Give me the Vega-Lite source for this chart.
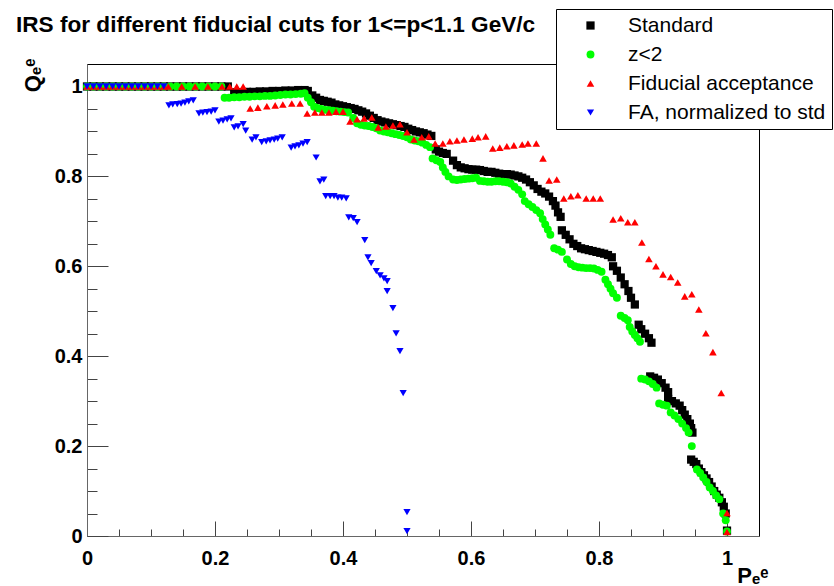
{
"$schema": "https://vega.github.io/schema/vega-lite/v6.json",
"autosize": {"type": "none"},
"width": 672, "height": 472,
"padding": {"left": 87, "top": 64, "right": 75, "bottom": 50},
"background": "white",
"title": {"text": "IRS for different fiducial cuts for 1<=p<1.1 GeV/c", "anchor": "start", "frame": "group", "font": "Liberation Sans", "fontSize": 22.6, "fontWeight": "bold", "color": "black", "dx": -71, "offset": 33, "dy": 79, "baseline": "alphabetic"},
"config": {
  "font": "Liberation Sans",
  "view": {"stroke": "black", "strokeWidth": 1},
  "legend": {"orient": "none", "legendX": 469, "legendY": -55, "padding": 6, "symbolOffset": 18, "labelOffset": 27, "rowPadding": 7, "labelFont": "Liberation Sans", "labelFontSize": 21, "labelColor": "black", "strokeColor": "black", "fillColor": "white", "symbolSize": 50, "symbolStrokeWidth": 0, "labelLimit": 400}
},
"data": {"values": [
{"s":"Standard","x":0,"y":1},{"s":"Standard","x":0.01,"y":1},{"s":"Standard","x":0.02,"y":1},{"s":"Standard","x":0.03,"y":1},{"s":"Standard","x":0.04,"y":1},{"s":"Standard","x":0.05,"y":1},{"s":"Standard","x":0.06,"y":1},{"s":"Standard","x":0.07,"y":1},{"s":"Standard","x":0.08,"y":1},{"s":"Standard","x":0.09,"y":1},{"s":"Standard","x":0.1,"y":1},{"s":"Standard","x":0.11,"y":1},{"s":"Standard","x":0.12,"y":1},{"s":"Standard","x":0.13,"y":1},{"s":"Standard","x":0.14,"y":1},{"s":"Standard","x":0.15,"y":1},{"s":"Standard","x":0.16,"y":1},{"s":"Standard","x":0.17,"y":1},{"s":"Standard","x":0.18,"y":1},{"s":"Standard","x":0.19,"y":1},{"s":"Standard","x":0.2,"y":1},{"s":"Standard","x":0.21,"y":1},{"s":"Standard","x":0.22,"y":1},
{"s":"Standard","x":0.23,"y":0.987},{"s":"Standard","x":0.24,"y":0.987},{"s":"Standard","x":0.25,"y":0.988},{"s":"Standard","x":0.26,"y":0.988},{"s":"Standard","x":0.27,"y":0.989},{"s":"Standard","x":0.28,"y":0.989},{"s":"Standard","x":0.29,"y":0.99},{"s":"Standard","x":0.3,"y":0.99},{"s":"Standard","x":0.31,"y":0.991},{"s":"Standard","x":0.32,"y":0.991},{"s":"Standard","x":0.33,"y":0.992},{"s":"Standard","x":0.34,"y":0.992},{"s":"Standard","x":0.345,"y":0.99},
{"s":"Standard","x":0.352,"y":0.98},{"s":"Standard","x":0.358,"y":0.975},{"s":"Standard","x":0.364,"y":0.97},{"s":"Standard","x":0.37,"y":0.968},{"s":"Standard","x":0.376,"y":0.966},{"s":"Standard","x":0.382,"y":0.964},{"s":"Standard","x":0.388,"y":0.96},{"s":"Standard","x":0.394,"y":0.958},{"s":"Standard","x":0.4,"y":0.956},{"s":"Standard","x":0.406,"y":0.954},{"s":"Standard","x":0.412,"y":0.952},{"s":"Standard","x":0.418,"y":0.95},{"s":"Standard","x":0.424,"y":0.947},{"s":"Standard","x":0.43,"y":0.944},{"s":"Standard","x":0.436,"y":0.94},{"s":"Standard","x":0.442,"y":0.935},{"s":"Standard","x":0.448,"y":0.93},{"s":"Standard","x":0.454,"y":0.925},{"s":"Standard","x":0.46,"y":0.922},{"s":"Standard","x":0.466,"y":0.92},{"s":"Standard","x":0.472,"y":0.918},{"s":"Standard","x":0.478,"y":0.916},{"s":"Standard","x":0.484,"y":0.914},{"s":"Standard","x":0.49,"y":0.912},{"s":"Standard","x":0.496,"y":0.91},{"s":"Standard","x":0.502,"y":0.906},{"s":"Standard","x":0.508,"y":0.903},{"s":"Standard","x":0.514,"y":0.9},{"s":"Standard","x":0.52,"y":0.898},{"s":"Standard","x":0.526,"y":0.896},{"s":"Standard","x":0.532,"y":0.893},{"s":"Standard","x":0.538,"y":0.89},
{"s":"Standard","x":0.545,"y":0.86},{"s":"Standard","x":0.55,"y":0.855},{"s":"Standard","x":0.556,"y":0.852},{"s":"Standard","x":0.562,"y":0.85},{"s":"Standard","x":0.572,"y":0.835},{"s":"Standard","x":0.578,"y":0.825},{"s":"Standard","x":0.584,"y":0.82},{"s":"Standard","x":0.59,"y":0.818},{"s":"Standard","x":0.596,"y":0.816},{"s":"Standard","x":0.602,"y":0.815},{"s":"Standard","x":0.608,"y":0.815},{"s":"Standard","x":0.614,"y":0.814},{"s":"Standard","x":0.62,"y":0.812},{"s":"Standard","x":0.626,"y":0.81},{"s":"Standard","x":0.632,"y":0.81},{"s":"Standard","x":0.638,"y":0.808},{"s":"Standard","x":0.644,"y":0.806},{"s":"Standard","x":0.65,"y":0.805},{"s":"Standard","x":0.656,"y":0.805},{"s":"Standard","x":0.662,"y":0.804},{"s":"Standard","x":0.668,"y":0.802},{"s":"Standard","x":0.674,"y":0.8},{"s":"Standard","x":0.68,"y":0.797},{"s":"Standard","x":0.686,"y":0.793},{"s":"Standard","x":0.692,"y":0.787},{"s":"Standard","x":0.698,"y":0.78},{"s":"Standard","x":0.704,"y":0.772},{"s":"Standard","x":0.71,"y":0.766},{"s":"Standard","x":0.716,"y":0.762},{"s":"Standard","x":0.722,"y":0.755},{"s":"Standard","x":0.728,"y":0.745},{"s":"Standard","x":0.732,"y":0.735},{"s":"Standard","x":0.736,"y":0.72},{"s":"Standard","x":0.74,"y":0.71},
{"s":"Standard","x":0.742,"y":0.68},{"s":"Standard","x":0.748,"y":0.67},{"s":"Standard","x":0.754,"y":0.66},{"s":"Standard","x":0.76,"y":0.65},{"s":"Standard","x":0.766,"y":0.645},{"s":"Standard","x":0.772,"y":0.64},{"s":"Standard","x":0.778,"y":0.638},{"s":"Standard","x":0.784,"y":0.636},{"s":"Standard","x":0.79,"y":0.634},{"s":"Standard","x":0.796,"y":0.632},{"s":"Standard","x":0.802,"y":0.63},{"s":"Standard","x":0.808,"y":0.628},{"s":"Standard","x":0.814,"y":0.625},{"s":"Standard","x":0.82,"y":0.62},{"s":"Standard","x":0.822,"y":0.6},{"s":"Standard","x":0.828,"y":0.59},{"s":"Standard","x":0.834,"y":0.575},{"s":"Standard","x":0.84,"y":0.56},{"s":"Standard","x":0.846,"y":0.545},{"s":"Standard","x":0.85,"y":0.53},{"s":"Standard","x":0.856,"y":0.515},
{"s":"Standard","x":0.862,"y":0.47},{"s":"Standard","x":0.866,"y":0.46},{"s":"Standard","x":0.872,"y":0.45},{"s":"Standard","x":0.878,"y":0.44},{"s":"Standard","x":0.882,"y":0.43},
{"s":"Standard","x":0.88,"y":0.355},{"s":"Standard","x":0.886,"y":0.352},{"s":"Standard","x":0.892,"y":0.348},{"s":"Standard","x":0.898,"y":0.34},{"s":"Standard","x":0.904,"y":0.33},{"s":"Standard","x":0.908,"y":0.32},{"s":"Standard","x":0.908,"y":0.305},{"s":"Standard","x":0.914,"y":0.3},{"s":"Standard","x":0.92,"y":0.295},{"s":"Standard","x":0.926,"y":0.29},{"s":"Standard","x":0.93,"y":0.28},{"s":"Standard","x":0.934,"y":0.27},{"s":"Standard","x":0.938,"y":0.26},{"s":"Standard","x":0.942,"y":0.25},{"s":"Standard","x":0.944,"y":0.24},{"s":"Standard","x":0.946,"y":0.23},
{"s":"Standard","x":0.944,"y":0.17},{"s":"Standard","x":0.948,"y":0.165},{"s":"Standard","x":0.952,"y":0.16},{"s":"Standard","x":0.956,"y":0.15},{"s":"Standard","x":0.96,"y":0.142},{"s":"Standard","x":0.964,"y":0.135},{"s":"Standard","x":0.968,"y":0.128},{"s":"Standard","x":0.972,"y":0.12},{"s":"Standard","x":0.976,"y":0.11},{"s":"Standard","x":0.98,"y":0.1},{"s":"Standard","x":0.984,"y":0.092},{"s":"Standard","x":0.988,"y":0.085},{"s":"Standard","x":0.992,"y":0.075},{"s":"Standard","x":0.995,"y":0.065},{"s":"Standard","x":0.998,"y":0.05},{"s":"Standard","x":1,"y":0.012},

{"s":"z<2","x":0,"y":1},{"s":"z<2","x":0.01,"y":1},{"s":"z<2","x":0.02,"y":1},{"s":"z<2","x":0.03,"y":1},{"s":"z<2","x":0.04,"y":1},{"s":"z<2","x":0.05,"y":1},{"s":"z<2","x":0.06,"y":1},{"s":"z<2","x":0.07,"y":1},{"s":"z<2","x":0.08,"y":1},{"s":"z<2","x":0.09,"y":1},{"s":"z<2","x":0.1,"y":1},{"s":"z<2","x":0.11,"y":1},{"s":"z<2","x":0.12,"y":1},{"s":"z<2","x":0.13,"y":1},{"s":"z<2","x":0.14,"y":1},{"s":"z<2","x":0.15,"y":1},{"s":"z<2","x":0.16,"y":1},{"s":"z<2","x":0.17,"y":1},{"s":"z<2","x":0.18,"y":1},{"s":"z<2","x":0.19,"y":1},{"s":"z<2","x":0.2,"y":1},{"s":"z<2","x":0.21,"y":1},
{"s":"z<2","x":0.215,"y":0.975},{"s":"z<2","x":0.222,"y":0.975},{"s":"z<2","x":0.23,"y":0.976},{"s":"z<2","x":0.238,"y":0.976},{"s":"z<2","x":0.246,"y":0.977},{"s":"z<2","x":0.254,"y":0.977},{"s":"z<2","x":0.262,"y":0.978},{"s":"z<2","x":0.27,"y":0.978},{"s":"z<2","x":0.278,"y":0.979},{"s":"z<2","x":0.286,"y":0.979},{"s":"z<2","x":0.294,"y":0.98},{"s":"z<2","x":0.302,"y":0.981},{"s":"z<2","x":0.31,"y":0.982},{"s":"z<2","x":0.318,"y":0.982},{"s":"z<2","x":0.326,"y":0.983},{"s":"z<2","x":0.334,"y":0.984},{"s":"z<2","x":0.34,"y":0.985},
{"s":"z<2","x":0.345,"y":0.975},{"s":"z<2","x":0.35,"y":0.965},{"s":"z<2","x":0.355,"y":0.955},{"s":"z<2","x":0.36,"y":0.952},{"s":"z<2","x":0.366,"y":0.95},{"s":"z<2","x":0.372,"y":0.948},{"s":"z<2","x":0.378,"y":0.947},{"s":"z<2","x":0.384,"y":0.946},{"s":"z<2","x":0.39,"y":0.945},{"s":"z<2","x":0.396,"y":0.944},{"s":"z<2","x":0.402,"y":0.943},{"s":"z<2","x":0.408,"y":0.942},{"s":"z<2","x":0.416,"y":0.93},{"s":"z<2","x":0.422,"y":0.918},{"s":"z<2","x":0.428,"y":0.915},{"s":"z<2","x":0.434,"y":0.913},{"s":"z<2","x":0.44,"y":0.912},{"s":"z<2","x":0.446,"y":0.91},{"s":"z<2","x":0.452,"y":0.907},{"s":"z<2","x":0.458,"y":0.902},{"s":"z<2","x":0.464,"y":0.9},{"s":"z<2","x":0.47,"y":0.898},{"s":"z<2","x":0.476,"y":0.896},{"s":"z<2","x":0.482,"y":0.894},{"s":"z<2","x":0.488,"y":0.892},{"s":"z<2","x":0.494,"y":0.89},{"s":"z<2","x":0.5,"y":0.887},{"s":"z<2","x":0.506,"y":0.882},{"s":"z<2","x":0.512,"y":0.88},{"s":"z<2","x":0.518,"y":0.878},{"s":"z<2","x":0.524,"y":0.875},{"s":"z<2","x":0.53,"y":0.87},{"s":"z<2","x":0.536,"y":0.865},
{"s":"z<2","x":0.54,"y":0.84},{"s":"z<2","x":0.546,"y":0.836},{"s":"z<2","x":0.552,"y":0.832},{"s":"z<2","x":0.556,"y":0.82},{"s":"z<2","x":0.56,"y":0.81},{"s":"z<2","x":0.565,"y":0.8},{"s":"z<2","x":0.572,"y":0.793},{"s":"z<2","x":0.578,"y":0.792},{"s":"z<2","x":0.584,"y":0.793},{"s":"z<2","x":0.59,"y":0.794},{"s":"z<2","x":0.596,"y":0.795},{"s":"z<2","x":0.602,"y":0.796},{"s":"z<2","x":0.608,"y":0.797},{"s":"z<2","x":0.614,"y":0.79},{"s":"z<2","x":0.62,"y":0.789},{"s":"z<2","x":0.626,"y":0.788},{"s":"z<2","x":0.632,"y":0.788},{"s":"z<2","x":0.638,"y":0.789},{"s":"z<2","x":0.644,"y":0.789},{"s":"z<2","x":0.65,"y":0.788},{"s":"z<2","x":0.656,"y":0.787},{"s":"z<2","x":0.662,"y":0.784},{"s":"z<2","x":0.668,"y":0.777},{"s":"z<2","x":0.674,"y":0.77},{"s":"z<2","x":0.68,"y":0.76},{"s":"z<2","x":0.684,"y":0.745},{"s":"z<2","x":0.69,"y":0.738},{"s":"z<2","x":0.696,"y":0.732},{"s":"z<2","x":0.702,"y":0.725},{"s":"z<2","x":0.708,"y":0.718},{"s":"z<2","x":0.712,"y":0.705},{"s":"z<2","x":0.716,"y":0.693},{"s":"z<2","x":0.72,"y":0.682},{"s":"z<2","x":0.724,"y":0.67},
{"s":"z<2","x":0.73,"y":0.64},{"s":"z<2","x":0.736,"y":0.637},{"s":"z<2","x":0.742,"y":0.632},{"s":"z<2","x":0.75,"y":0.615},{"s":"z<2","x":0.756,"y":0.605},{"s":"z<2","x":0.762,"y":0.6},{"s":"z<2","x":0.768,"y":0.598},{"s":"z<2","x":0.774,"y":0.597},{"s":"z<2","x":0.78,"y":0.596},{"s":"z<2","x":0.786,"y":0.596},{"s":"z<2","x":0.792,"y":0.595},{"s":"z<2","x":0.798,"y":0.592},{"s":"z<2","x":0.804,"y":0.588},{"s":"z<2","x":0.81,"y":0.57},{"s":"z<2","x":0.814,"y":0.56},{"s":"z<2","x":0.818,"y":0.55},{"s":"z<2","x":0.822,"y":0.54},{"s":"z<2","x":0.828,"y":0.53},
{"s":"z<2","x":0.834,"y":0.49},{"s":"z<2","x":0.84,"y":0.485},{"s":"z<2","x":0.845,"y":0.48},{"s":"z<2","x":0.848,"y":0.465},{"s":"z<2","x":0.852,"y":0.455},{"s":"z<2","x":0.856,"y":0.447},{"s":"z<2","x":0.86,"y":0.44},{"s":"z<2","x":0.864,"y":0.432},
{"s":"z<2","x":0.866,"y":0.35},{"s":"z<2","x":0.872,"y":0.348},{"s":"z<2","x":0.878,"y":0.344},{"s":"z<2","x":0.884,"y":0.338},{"s":"z<2","x":0.89,"y":0.33},{"s":"z<2","x":0.894,"y":0.295},{"s":"z<2","x":0.9,"y":0.292},{"s":"z<2","x":0.906,"y":0.29},{"s":"z<2","x":0.912,"y":0.275},{"s":"z<2","x":0.918,"y":0.268},{"s":"z<2","x":0.924,"y":0.26},{"s":"z<2","x":0.93,"y":0.25},{"s":"z<2","x":0.936,"y":0.24},{"s":"z<2","x":0.94,"y":0.23},{"s":"z<2","x":0.945,"y":0.2},
{"s":"z<2","x":0.953,"y":0.148},{"s":"z<2","x":0.958,"y":0.14},{"s":"z<2","x":0.963,"y":0.13},{"s":"z<2","x":0.968,"y":0.12},{"s":"z<2","x":0.973,"y":0.108},{"s":"z<2","x":0.978,"y":0.1},{"s":"z<2","x":0.983,"y":0.09},{"s":"z<2","x":0.988,"y":0.082},{"s":"z<2","x":0.994,"y":0.05},{"s":"z<2","x":0.998,"y":0.035},{"s":"z<2","x":1,"y":0.01},

{"s":"Fiducial acceptance","x":0,"y":1},{"s":"Fiducial acceptance","x":0.01,"y":1},{"s":"Fiducial acceptance","x":0.02,"y":1},{"s":"Fiducial acceptance","x":0.03,"y":1},{"s":"Fiducial acceptance","x":0.04,"y":1},{"s":"Fiducial acceptance","x":0.05,"y":1},{"s":"Fiducial acceptance","x":0.06,"y":1},{"s":"Fiducial acceptance","x":0.07,"y":1},{"s":"Fiducial acceptance","x":0.08,"y":1},{"s":"Fiducial acceptance","x":0.09,"y":1},{"s":"Fiducial acceptance","x":0.1,"y":1},{"s":"Fiducial acceptance","x":0.11,"y":1},{"s":"Fiducial acceptance","x":0.12,"y":1},
{"s":"Fiducial acceptance","x":0.127,"y":1},{"s":"Fiducial acceptance","x":0.148,"y":1},{"s":"Fiducial acceptance","x":0.169,"y":1},{"s":"Fiducial acceptance","x":0.189,"y":1},{"s":"Fiducial acceptance","x":0.211,"y":1},{"s":"Fiducial acceptance","x":0.223,"y":1},{"s":"Fiducial acceptance","x":0.234,"y":1},{"s":"Fiducial acceptance","x":0.244,"y":1},
{"s":"Fiducial acceptance","x":0.255,"y":0.951},{"s":"Fiducial acceptance","x":0.267,"y":0.953},{"s":"Fiducial acceptance","x":0.281,"y":0.956},{"s":"Fiducial acceptance","x":0.294,"y":0.958},{"s":"Fiducial acceptance","x":0.306,"y":0.96},{"s":"Fiducial acceptance","x":0.32,"y":0.962},{"s":"Fiducial acceptance","x":0.333,"y":0.962},
{"s":"Fiducial acceptance","x":0.344,"y":0.94},{"s":"Fiducial acceptance","x":0.356,"y":0.942},{"s":"Fiducial acceptance","x":0.367,"y":0.942},{"s":"Fiducial acceptance","x":0.378,"y":0.942},{"s":"Fiducial acceptance","x":0.389,"y":0.944},{"s":"Fiducial acceptance","x":0.4,"y":0.944},
{"s":"Fiducial acceptance","x":0.411,"y":0.922},{"s":"Fiducial acceptance","x":0.422,"y":0.927},{"s":"Fiducial acceptance","x":0.433,"y":0.929},{"s":"Fiducial acceptance","x":0.445,"y":0.931},
{"s":"Fiducial acceptance","x":0.455,"y":0.909},{"s":"Fiducial acceptance","x":0.467,"y":0.911},{"s":"Fiducial acceptance","x":0.478,"y":0.913},{"s":"Fiducial acceptance","x":0.489,"y":0.916},{"s":"Fiducial acceptance","x":0.5,"y":0.898},
{"s":"Fiducial acceptance","x":0.511,"y":0.882},{"s":"Fiducial acceptance","x":0.523,"y":0.887},{"s":"Fiducial acceptance","x":0.534,"y":0.889},
{"s":"Fiducial acceptance","x":0.544,"y":0.873},{"s":"Fiducial acceptance","x":0.556,"y":0.873},{"s":"Fiducial acceptance","x":0.567,"y":0.878},{"s":"Fiducial acceptance","x":0.578,"y":0.88},{"s":"Fiducial acceptance","x":0.589,"y":0.882},{"s":"Fiducial acceptance","x":0.602,"y":0.884},{"s":"Fiducial acceptance","x":0.611,"y":0.887},{"s":"Fiducial acceptance","x":0.623,"y":0.889},
{"s":"Fiducial acceptance","x":0.634,"y":0.862},{"s":"Fiducial acceptance","x":0.645,"y":0.864},{"s":"Fiducial acceptance","x":0.656,"y":0.867},{"s":"Fiducial acceptance","x":0.667,"y":0.869},{"s":"Fiducial acceptance","x":0.68,"y":0.871},{"s":"Fiducial acceptance","x":0.689,"y":0.873},{"s":"Fiducial acceptance","x":0.702,"y":0.873},
{"s":"Fiducial acceptance","x":0.7125,"y":0.84},{"s":"Fiducial acceptance","x":0.722,"y":0.791},{"s":"Fiducial acceptance","x":0.734,"y":0.793},
{"s":"Fiducial acceptance","x":0.745,"y":0.751},{"s":"Fiducial acceptance","x":0.756,"y":0.756},{"s":"Fiducial acceptance","x":0.767,"y":0.758},{"s":"Fiducial acceptance","x":0.78,"y":0.751},{"s":"Fiducial acceptance","x":0.791,"y":0.751},{"s":"Fiducial acceptance","x":0.802,"y":0.751},
{"s":"Fiducial acceptance","x":0.822,"y":0.704},{"s":"Fiducial acceptance","x":0.834,"y":0.707},{"s":"Fiducial acceptance","x":0.845,"y":0.698},{"s":"Fiducial acceptance","x":0.856,"y":0.698},
{"s":"Fiducial acceptance","x":0.867,"y":0.653},{"s":"Fiducial acceptance","x":0.878,"y":0.616},{"s":"Fiducial acceptance","x":0.889,"y":0.6},{"s":"Fiducial acceptance","x":0.9,"y":0.582},{"s":"Fiducial acceptance","x":0.912,"y":0.576},{"s":"Fiducial acceptance","x":0.923,"y":0.564},{"s":"Fiducial acceptance","x":0.934,"y":0.533},{"s":"Fiducial acceptance","x":0.945,"y":0.538},{"s":"Fiducial acceptance","x":0.956,"y":0.504},{"s":"Fiducial acceptance","x":0.967,"y":0.451},{"s":"Fiducial acceptance","x":0.978,"y":0.409},{"s":"Fiducial acceptance","x":0.991,"y":0.318},{"s":"Fiducial acceptance","x":1,"y":0.051},{"s":"Fiducial acceptance","x":1,"y":0.009},

{"s":"FA, normalized to std","x":0,"y":1},{"s":"FA, normalized to std","x":0.01,"y":1},{"s":"FA, normalized to std","x":0.02,"y":1},{"s":"FA, normalized to std","x":0.03,"y":1},{"s":"FA, normalized to std","x":0.04,"y":1},{"s":"FA, normalized to std","x":0.05,"y":1},{"s":"FA, normalized to std","x":0.06,"y":1},{"s":"FA, normalized to std","x":0.07,"y":1},{"s":"FA, normalized to std","x":0.08,"y":1},{"s":"FA, normalized to std","x":0.09,"y":1},{"s":"FA, normalized to std","x":0.1,"y":1},{"s":"FA, normalized to std","x":0.11,"y":1},{"s":"FA, normalized to std","x":0.12,"y":1},
{"s":"FA, normalized to std","x":0.128,"y":0.958},{"s":"FA, normalized to std","x":0.134,"y":0.96},{"s":"FA, normalized to std","x":0.141,"y":0.961},{"s":"FA, normalized to std","x":0.147,"y":0.962},{"s":"FA, normalized to std","x":0.153,"y":0.964},{"s":"FA, normalized to std","x":0.159,"y":0.967},{"s":"FA, normalized to std","x":0.166,"y":0.969},
{"s":"FA, normalized to std","x":0.175,"y":0.94},{"s":"FA, normalized to std","x":0.181,"y":0.942},{"s":"FA, normalized to std","x":0.1875,"y":0.943},{"s":"FA, normalized to std","x":0.194,"y":0.944},{"s":"FA, normalized to std","x":0.2,"y":0.947},
{"s":"FA, normalized to std","x":0.206,"y":0.922},{"s":"FA, normalized to std","x":0.2125,"y":0.924},{"s":"FA, normalized to std","x":0.219,"y":0.927},{"s":"FA, normalized to std","x":0.225,"y":0.929},
{"s":"FA, normalized to std","x":0.23,"y":0.909},{"s":"FA, normalized to std","x":0.236,"y":0.911},{"s":"FA, normalized to std","x":0.244,"y":0.916},{"s":"FA, normalized to std","x":0.248,"y":0.902},
{"s":"FA, normalized to std","x":0.258,"y":0.882},{"s":"FA, normalized to std","x":0.264,"y":0.887},
{"s":"FA, normalized to std","x":0.273,"y":0.876},{"s":"FA, normalized to std","x":0.28,"y":0.878},{"s":"FA, normalized to std","x":0.286,"y":0.88},{"s":"FA, normalized to std","x":0.2925,"y":0.882},{"s":"FA, normalized to std","x":0.298,"y":0.884},{"s":"FA, normalized to std","x":0.305,"y":0.887},
{"s":"FA, normalized to std","x":0.319,"y":0.864},{"s":"FA, normalized to std","x":0.325,"y":0.867},{"s":"FA, normalized to std","x":0.331,"y":0.869},{"s":"FA, normalized to std","x":0.3375,"y":0.873},{"s":"FA, normalized to std","x":0.344,"y":0.876},
{"s":"FA, normalized to std","x":0.358,"y":0.842},{"s":"FA, normalized to std","x":0.364,"y":0.789},{"s":"FA, normalized to std","x":0.37,"y":0.793},
{"s":"FA, normalized to std","x":0.373,"y":0.756},{"s":"FA, normalized to std","x":0.38,"y":0.756},{"s":"FA, normalized to std","x":0.386,"y":0.756},{"s":"FA, normalized to std","x":0.392,"y":0.753},{"s":"FA, normalized to std","x":0.398,"y":0.753},{"s":"FA, normalized to std","x":0.405,"y":0.751},
{"s":"FA, normalized to std","x":0.409,"y":0.709},{"s":"FA, normalized to std","x":0.416,"y":0.707},{"s":"FA, normalized to std","x":0.422,"y":0.698},
{"s":"FA, normalized to std","x":0.434,"y":0.658},{"s":"FA, normalized to std","x":0.439,"y":0.62},{"s":"FA, normalized to std","x":0.444,"y":0.607},
{"s":"FA, normalized to std","x":0.452,"y":0.589},{"s":"FA, normalized to std","x":0.458,"y":0.58},{"s":"FA, normalized to std","x":0.464,"y":0.573},{"s":"FA, normalized to std","x":0.469,"y":0.567},
{"s":"FA, normalized to std","x":0.469,"y":0.545},{"s":"FA, normalized to std","x":0.478,"y":0.507},{"s":"FA, normalized to std","x":0.483,"y":0.451},{"s":"FA, normalized to std","x":0.489,"y":0.411},{"s":"FA, normalized to std","x":0.494,"y":0.318},{"s":"FA, normalized to std","x":0.5,"y":0.053},{"s":"FA, normalized to std","x":0.5,"y":0.011}
]},
"mark": {"type": "point", "filled": true, "opacity": 1, "strokeWidth": 0},
"encoding": {
  "x": {"field": "x", "type": "quantitative", "scale": {"domain": [0, 1.05], "nice": false, "zero": false},
    "axis": {"title": "Pₑᵉ", "titleAngle": 0, "titleAlign": "right", "titleAnchor": "end", "titleX": 681, "titleY": 46, "titleBaseline": "alphabetic", "titleFont": "Liberation Sans", "titleFontSize": 22, "titleFontWeight": "bold", "titleColor": "black",
      "values": [0,0.05,0.1,0.15,0.2,0.25,0.3,0.35,0.4,0.45,0.5,0.55,0.6,0.65,0.7,0.75,0.8,0.85,0.9,0.95,1.0],
      "labelExpr": "abs(datum.value*5-round(datum.value*5))<0.001 ? format(datum.value, '~g') : ''",
      "labelFont": "Liberation Sans", "labelFontSize": 20, "labelFontWeight": "bold", "labelColor": "black", "labelFlush": false, "labelOverlap": false, "labelPadding": 27,
      "tickSize": {"condition": {"test": "abs(datum.value*5-round(datum.value*5))<0.001", "value": -15}, "value": -7},
      "tickColor": "#444", "domainColor": "#666", "grid": false}},
  "y": {"field": "y", "type": "quantitative", "scale": {"domain": [0, 1.05], "nice": false, "zero": false},
    "axis": {"title": "Qₑᵉ", "titleAngle": -90, "titleAlign": "right", "titleBaseline": "middle", "titleX": -55, "titleY": -6, "titleFont": "Liberation Sans", "titleFontSize": 22, "titleFontWeight": "bold", "titleColor": "black",
      "values": [0,0.05,0.1,0.15,0.2,0.25,0.3,0.35,0.4,0.45,0.5,0.55,0.6,0.65,0.7,0.75,0.8,0.85,0.9,0.95,1.0],
      "labelExpr": "abs(datum.value*5-round(datum.value*5))<0.001 ? format(datum.value, '~g') : ''",
      "labelFont": "Liberation Sans", "labelFontSize": 20, "labelFontWeight": "bold", "labelColor": "black", "labelFlush": false, "labelOverlap": false, "labelPadding": 26,
      "tickSize": {"condition": {"test": "abs(datum.value*5-round(datum.value*5))<0.001", "value": -21}, "value": -10},
      "tickColor": "#444", "domainColor": "#666", "grid": false}},
  "color": {"field": "s", "type": "nominal", "scale": {"domain": ["Standard", "z<2", "Fiducial acceptance", "FA, normalized to std"], "range": ["#000000", "#00ff00", "#ff0000", "#0000ff"]}, "legend": {"title": null}},
  "shape": {"field": "s", "type": "nominal", "scale": {"domain": ["Standard", "z<2", "Fiducial acceptance", "FA, normalized to std"], "range": ["square", "circle", "triangle-up", "triangle-down"]}, "legend": {"title": null}},
  "size": {"field": "s", "type": "nominal", "scale": {"domain": ["Standard", "z<2", "Fiducial acceptance", "FA, normalized to std"], "range": [68, 52, 72, 72]}, "legend": null}
}
}
